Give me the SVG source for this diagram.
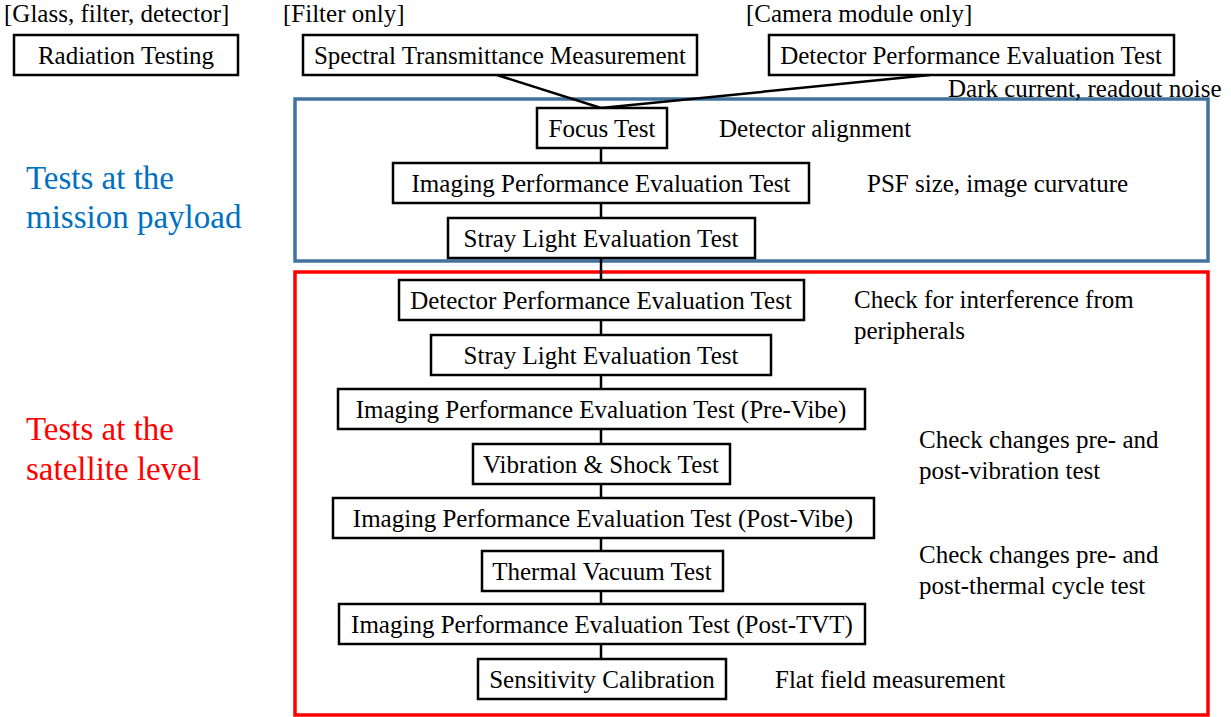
<svg xmlns="http://www.w3.org/2000/svg" width="1231" height="717" viewBox="0 0 1231 717">
<style>
text{font-family:"Liberation Serif","Times New Roman",serif;font-size:25px;fill:#000}
.box rect{fill:#fff;stroke:#000;stroke-width:2.5}
.box text{text-anchor:middle}
.big{font-size:33px}
.blue{fill:#0070C0}
.red{fill:#FF0000}
.conn line{stroke:#000;stroke-width:2.5}
</style>
<rect x="0" y="0" width="1231" height="717" fill="#fff"/>
<g id="frames">
<rect x="295" y="99" width="913" height="162" fill="none" stroke="#41719C" stroke-width="3.5"/>
<rect x="295" y="272" width="913" height="443" fill="none" stroke="#FF0000" stroke-width="3.5"/>
</g>
<g class="conn" id="connectors">
<line x1="497" y1="75" x2="601" y2="108"/>
<line x1="930" y1="75" x2="601" y2="108"/>
<line x1="601" y1="148" x2="601" y2="163"/>
<line x1="601" y1="203" x2="601" y2="218"/>
<line x1="601" y1="258" x2="601" y2="280"/>
<line x1="601" y1="320" x2="601" y2="335"/>
<line x1="601" y1="375" x2="601" y2="389"/>
<line x1="601" y1="429" x2="601" y2="444"/>
<line x1="601" y1="484" x2="601" y2="498"/>
<line x1="601" y1="538" x2="601" y2="551"/>
<line x1="601" y1="591" x2="601" y2="604"/>
<line x1="601" y1="644" x2="601" y2="659"/>
</g>
<g id="labels">
<text x="4" y="22">[Glass, filter, detector]</text>
<text x="283" y="22">[Filter only]</text>
<text x="746" y="22">[Camera module only]</text>
<text x="948" y="97">Dark current, readout noise</text>
<text x="719" y="137">Detector alignment</text>
<text x="867" y="192">PSF size, image curvature</text>
<text x="854" y="308">Check for interference from</text>
<text x="854" y="339">peripherals</text>
<text x="919" y="448">Check changes pre- and</text>
<text x="919" y="479">post-vibration test</text>
<text x="919" y="563">Check changes pre- and</text>
<text x="919" y="594">post-thermal cycle test</text>
<text x="775" y="688">Flat field measurement</text>
<text class="big blue" x="26" y="189">Tests at the</text>
<text class="big blue" x="26" y="228">mission payload</text>
<text class="big red" x="26" y="440">Tests at the</text>
<text class="big red" x="26" y="480">satellite level</text>
</g>
<g class="box" id="n-radiation"><rect x="14" y="35" width="224" height="40"/><text x="126" y="64">Radiation Testing</text></g>
<g class="box" id="n-spectral"><rect x="303" y="35" width="394" height="40"/><text x="500" y="64">Spectral Transmittance Measurement</text></g>
<g class="box" id="n-detector-cam"><rect x="769" y="35" width="405" height="40"/><text x="971" y="64">Detector Performance Evaluation Test</text></g>
<g class="box" id="n-focus"><rect x="537" y="108" width="130" height="40"/><text x="602" y="137">Focus Test</text></g>
<g class="box" id="n-imaging1"><rect x="393" y="163" width="416" height="40"/><text x="601" y="192">Imaging Performance Evaluation Test</text></g>
<g class="box" id="n-stray1"><rect x="448" y="218" width="307" height="40"/><text x="601" y="247">Stray Light Evaluation Test</text></g>
<g class="box" id="n-detector-sat"><rect x="399" y="280" width="405" height="40"/><text x="601" y="309">Detector Performance Evaluation Test</text></g>
<g class="box" id="n-stray2"><rect x="431" y="335" width="340" height="40"/><text x="601" y="364">Stray Light Evaluation Test</text></g>
<g class="box" id="n-imaging-pre"><rect x="338" y="389" width="527" height="40"/><text x="601" y="418">Imaging Performance Evaluation Test (Pre-Vibe)</text></g>
<g class="box" id="n-vibration"><rect x="473" y="444" width="257" height="40"/><text x="601" y="473">Vibration &amp; Shock Test</text></g>
<g class="box" id="n-imaging-post-vibe"><rect x="333" y="498" width="541" height="40"/><text x="603" y="527">Imaging Performance Evaluation Test (Post-Vibe)</text></g>
<g class="box" id="n-tvt"><rect x="482" y="551" width="241" height="40"/><text x="602" y="580">Thermal Vacuum Test</text></g>
<g class="box" id="n-imaging-post-tvt"><rect x="339" y="604" width="526" height="40"/><text x="602" y="633">Imaging Performance Evaluation Test (Post-TVT)</text></g>
<g class="box" id="n-sensitivity"><rect x="478" y="659" width="248" height="40"/><text x="602" y="688">Sensitivity Calibration</text></g>
</svg>
